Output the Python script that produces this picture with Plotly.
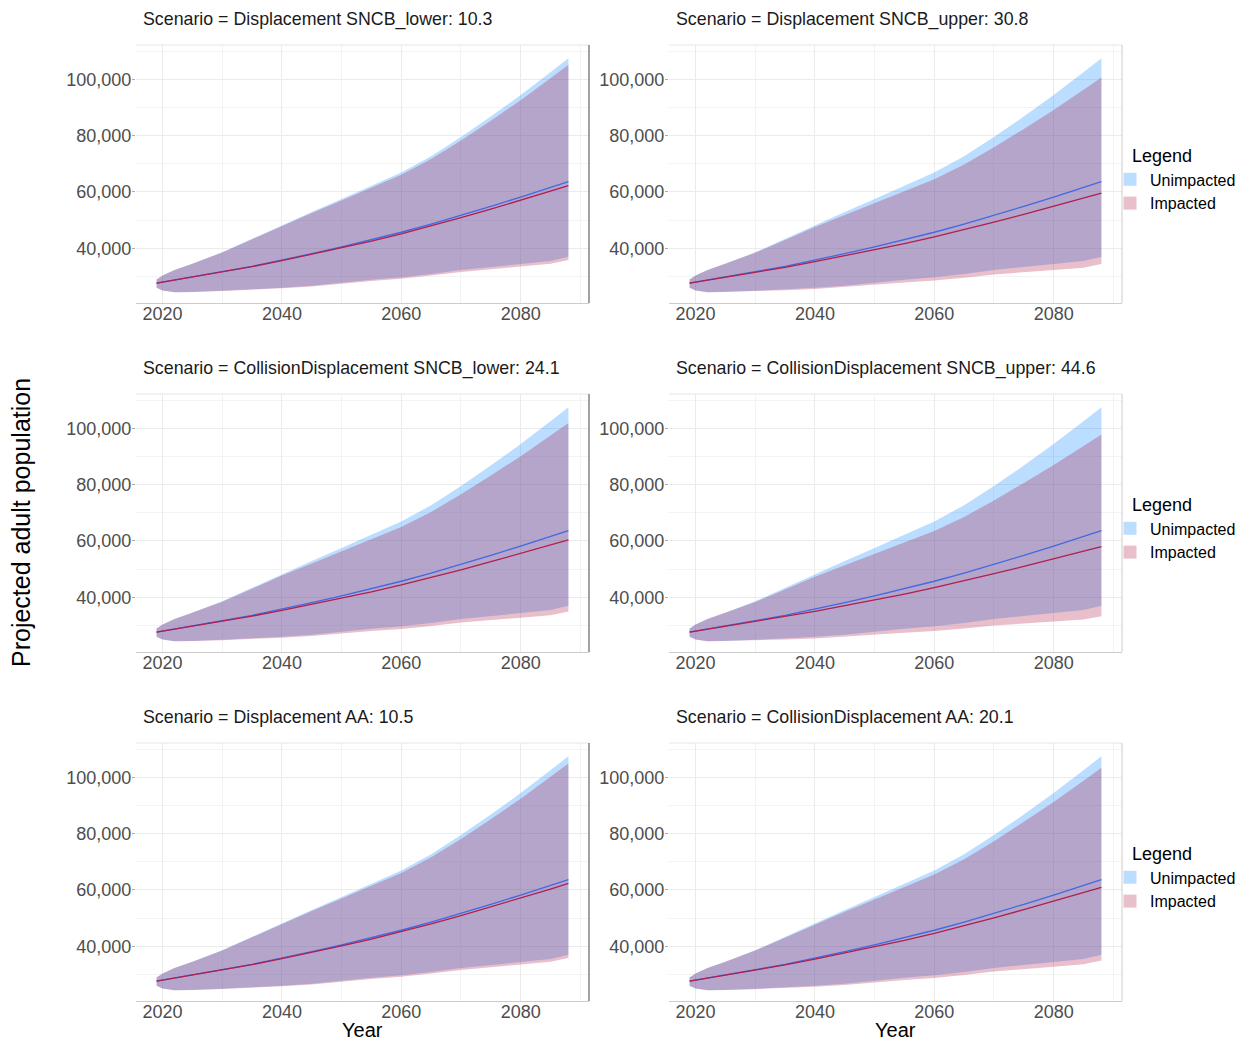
import plotly.graph_objects as go

# ---------------- data ----------------
years = [2019, 2020, 2022, 2025, 2030, 2035, 2040, 2045, 2050, 2055, 2060, 2065, 2070, 2075, 2080, 2085, 2088]

# Unimpacted (baseline) projection - same in every panel
unimp_med = [27600, 27950, 28650, 29700, 31700, 33600, 35800, 38100, 40500, 43000, 45700, 48600, 51700, 54900, 58200, 61600, 63700]
unimp_hi = [28900, 30300, 32300, 34500, 38600, 43400, 48300, 52900, 57500, 62100, 66900, 72700, 79500, 86800, 94400, 102500, 107500]
unimp_lo = [26000, 25000, 24400, 24500, 24900, 25400, 26000, 26700, 27800, 28800, 29700, 30900, 32300, 33300, 34400, 35500, 37000]

# Impacted projections, one set per scenario
imp_med_disp_sncb_lower = [27600, 27950, 28650, 29700, 31640, 33480, 35600, 37820, 40130, 42530, 45120, 47890, 50850, 53900, 57030, 60250, 62240]
imp_hi_disp_sncb_lower = [28900, 30300, 32300, 34500, 38530, 43250, 48050, 52530, 57000, 61450, 66080, 71680, 78250, 85280, 92590, 100350, 105140]
imp_lo_disp_sncb_lower = [26000, 25000, 24400, 24500, 24840, 25280, 25810, 26450, 27470, 28390, 29200, 30310, 31610, 32510, 33500, 34490, 35890]

imp_med_disp_sncb_upper = [27600, 27950, 28650, 29700, 31540, 33250, 35250, 37320, 39460, 41670, 44050, 46590, 49300, 52070, 54900, 57790, 59560]
imp_hi_disp_sncb_upper = [28900, 30300, 32300, 34500, 38400, 42960, 47560, 51830, 56040, 60200, 64520, 69740, 75860, 82390, 89130, 96260, 100620]
imp_lo_disp_sncb_upper = [26000, 25000, 24400, 24500, 24760, 25120, 25570, 26110, 27030, 27840, 28540, 29530, 30690, 31450, 32300, 33130, 34410]

imp_med_coll_sncb_lower = [27600, 27950, 28650, 29700, 31570, 33320, 35360, 37470, 39660, 41940, 44380, 47000, 49780, 52630, 55560, 58550, 60390]
imp_hi_coll_sncb_lower = [28900, 30300, 32300, 34500, 38440, 43040, 47700, 52030, 56310, 60560, 64960, 70290, 76550, 83220, 90120, 97430, 101910]
imp_lo_coll_sncb_lower = [26000, 25000, 24400, 24500, 24790, 25180, 25660, 26230, 27190, 28050, 28790, 29820, 31030, 31850, 32750, 33640, 34970]

imp_med_coll_sncb_upper = [27600, 27950, 28650, 29700, 31480, 33120, 35030, 37010, 39050, 41160, 43410, 45820, 48380, 50980, 53630, 56320, 57970]
imp_hi_coll_sncb_upper = [28900, 30300, 32300, 34500, 38330, 42780, 47270, 51390, 55440, 59430, 63550, 68530, 74380, 80600, 86980, 93720, 97830]
imp_lo_coll_sncb_upper = [26000, 25000, 24400, 24500, 24700, 25000, 25380, 25850, 26700, 27430, 28050, 28940, 29990, 30660, 31400, 32120, 33300]

imp_med_disp_aa = [27600, 27950, 28650, 29700, 31650, 33480, 35610, 37830, 40150, 42550, 45140, 47920, 50890, 53940, 57080, 60310, 62300]
imp_hi_disp_aa = [28900, 30300, 32300, 34500, 38530, 43230, 48020, 52500, 56950, 61390, 66010, 71590, 78140, 85150, 92420, 100160, 104920]
imp_lo_disp_aa = [26000, 25000, 24400, 24500, 24840, 25280, 25810, 26450, 27470, 28390, 29200, 30310, 31610, 32510, 33500, 34490, 35890]

imp_med_coll_aa = [27600, 27950, 28650, 29700, 31590, 33370, 35430, 37580, 39810, 42120, 44610, 47270, 50110, 53030, 56020, 59080, 60960]
imp_hi_coll_aa = [28900, 30300, 32300, 34500, 38480, 43140, 47860, 52260, 56630, 60970, 65480, 70940, 77340, 84180, 91270, 98790, 103420]
imp_lo_coll_aa = [26000, 25000, 24400, 24500, 24790, 25180, 25660, 26230, 27190, 28050, 28790, 29820, 31030, 31850, 32750, 33640, 34970]

panel_titles = [
    "Scenario = Displacement SNCB_lower: 10.3",
    "Scenario = Displacement SNCB_upper: 30.8",
    "Scenario = CollisionDisplacement SNCB_lower: 24.1",
    "Scenario = CollisionDisplacement SNCB_upper: 44.6",
    "Scenario = Displacement AA: 10.5",
    "Scenario = CollisionDisplacement AA: 20.1",
]
x_tick_vals = [2020, 2040, 2060, 2080]
x_minor_vals = [2030, 2050, 2070, 2090]
y_tick_vals = [40000, 60000, 80000, 100000]
y_minor_vals = [30000, 50000, 70000, 90000, 110000]
legend_labels = ["Unimpacted", "Impacted"]
legend_title = "Legend"
y_title = "Projected adult population"
x_title = "Year"

panels = [
    (imp_med_disp_sncb_lower, imp_hi_disp_sncb_lower, imp_lo_disp_sncb_lower),
    (imp_med_disp_sncb_upper, imp_hi_disp_sncb_upper, imp_lo_disp_sncb_upper),
    (imp_med_coll_sncb_lower, imp_hi_coll_sncb_lower, imp_lo_coll_sncb_lower),
    (imp_med_coll_sncb_upper, imp_hi_coll_sncb_upper, imp_lo_coll_sncb_upper),
    (imp_med_disp_aa, imp_hi_disp_aa, imp_lo_disp_aa),
    (imp_med_coll_aa, imp_hi_coll_aa, imp_lo_coll_aa),
]

# ---------------- styling ----------------
OFF = 8                      # page body margin
W, H = 1245 - OFF, 1041 - OFF
FONT = "Liberation Sans, Arial, sans-serif"
BLUE_FILL = "rgba(30,144,255,0.30)"
PINK_FILL = "rgba(163,0,47,0.25)"
BLUE_LINE = "#4169E1"
RED_LINE = "#B11E4E"
GRID = "#EBEBEB"
MINOR_GRID = "#F3F3F3"
TICK_FONT = dict(family=FONT, size=18, color="#4D4D4D")


def px_x(x):
    return (x - OFF) / W


def px_y(y):
    return 1 - (y - OFF) / H


col_px = [(136, 589), (669, 1122)]
row_px = [(45, 303), (394, 652), (743, 1001)]

fig = go.Figure()
legend_names = ["legend", "legend2", "legend3"]

for i, (imed, ihi, ilo) in enumerate(panels):
    r, c = divmod(i, 2)
    n = i + 1
    xa = "x" if n == 1 else f"x{n}"
    ya = "y" if n == 1 else f"y{n}"
    lg = legend_names[r]

    fig.add_trace(go.Scatter(
        x=years + years[::-1], y=unimp_hi + unimp_lo[::-1],
        fill="toself", fillcolor=BLUE_FILL, line=dict(width=0), mode="lines",
        name=legend_labels[0], showlegend=False,
        xaxis=xa, yaxis=ya, hoverinfo="skip"))
    fig.add_trace(go.Scatter(
        x=years + years[::-1], y=ihi + ilo[::-1],
        fill="toself", fillcolor=PINK_FILL, line=dict(width=0), mode="lines",
        name=legend_labels[1], showlegend=False,
        xaxis=xa, yaxis=ya, hoverinfo="skip"))
    fig.add_trace(go.Scatter(
        x=years, y=unimp_med, mode="lines", line=dict(color=BLUE_LINE, width=1.3),
        showlegend=False, xaxis=xa, yaxis=ya))
    fig.add_trace(go.Scatter(
        x=years, y=imed, mode="lines", line=dict(color=RED_LINE, width=1.3),
        showlegend=False, xaxis=xa, yaxis=ya))

    if c == 1:
        # legend keys (square swatches like the reference legend)
        for lab, colr in zip(legend_labels, [BLUE_FILL, PINK_FILL]):
            fig.add_trace(go.Scatter(
                x=[None], y=[None], mode="markers", name=lab, legend=lg,
                marker=dict(symbol="square", size=13, color=colr, line=dict(width=0)),
                xaxis=xa, yaxis=ya, showlegend=True))

    x0, x1 = col_px[c]
    y0, y1 = row_px[r]
    sfx = "" if n == 1 else str(n)
    fig.layout[f"xaxis{sfx}"] = dict(
        domain=[px_x(x0), px_x(x1)], anchor=ya, range=[2015.55, 2091.45],
        tickmode="array", tickvals=x_tick_vals,
        showgrid=True, gridcolor=GRID, gridwidth=1,
        minor=dict(tickmode="array", tickvals=x_minor_vals, showgrid=True,
                   gridcolor=MINOR_GRID, gridwidth=1),
        showline=True, linecolor="#CCCCCC", linewidth=1, ticks="",
        ticklabelstandoff=-6,
        tickfont=TICK_FONT, zeroline=False, fixedrange=True)
    fig.layout[f"yaxis{sfx}"] = dict(
        domain=[px_y(y1), px_y(y0)], anchor=xa, range=[20580, 112180],
        tickmode="array", tickvals=y_tick_vals, tickformat=",",
        showgrid=True, gridcolor=GRID, gridwidth=1,
        minor=dict(tickmode="array", tickvals=y_minor_vals,
                   showgrid=True, gridcolor=MINOR_GRID, gridwidth=1),
        showline=False, ticks="outside", ticklen=3, tickcolor="#AAAAAA",
        ticklabelstandoff=-3,
        tickfont=TICK_FONT, zeroline=False, fixedrange=True)

    # panel border pieces (top and right)
    fig.add_shape(type="line", xref=f"{xa} domain", yref=f"{ya} domain",
                  x0=0, x1=1, y0=1, y1=1, line=dict(color="#E6E6E6", width=1))
    fig.add_shape(type="line", xref=f"{xa} domain", yref=f"{ya} domain",
                  x0=1, x1=1, y0=0, y1=1,
                  line=dict(color="#444444" if c == 0 else "#CCCCCC", width=1))

    # facet title
    fig.add_annotation(text=panel_titles[i], xref="paper", yref="paper",
                       x=px_x(x0 + 6), y=px_y(y0 - 26), xanchor="left", yanchor="middle",
                       showarrow=False, borderpad=0,
                       font=dict(family=FONT, size=17.8, color="#1A1A1A"))

    if r == 2:
        fig.add_annotation(text=x_title, xref="paper", yref="paper",
                           x=px_x((x0 + x1) / 2), y=px_y(1030), xanchor="center", yanchor="middle",
                           showarrow=False, font=dict(family=FONT, size=20, color="#000000"))

fig.add_annotation(text=y_title, xref="paper", yref="paper", x=px_x(21), y=px_y(523),
                   xanchor="center", yanchor="middle", textangle=-90, showarrow=False,
                   font=dict(family=FONT, size=25, color="#000000"))

legend_tops = [139, 488, 837]
for lg, top in zip(legend_names, legend_tops):
    fig.layout[lg] = dict(
        title=dict(text="\u00a0\u00a0\u00a0\u00a0" + legend_title,
                   font=dict(family=FONT, size=18, color="#000000")),
        font=dict(family=FONT, size=16, color="#000000"),
        x=px_x(1110), y=px_y(top), xanchor="left", yanchor="top",
        bgcolor="rgba(0,0,0,0)", borderwidth=0, tracegroupgap=0, itemwidth=30)

fig.update_layout(
    width=W, height=H, margin=dict(l=0, r=0, t=0, b=0),
    paper_bgcolor="white", plot_bgcolor="white",
    font=dict(family=FONT), hovermode=False,
)

fig.write_html("out.html")
